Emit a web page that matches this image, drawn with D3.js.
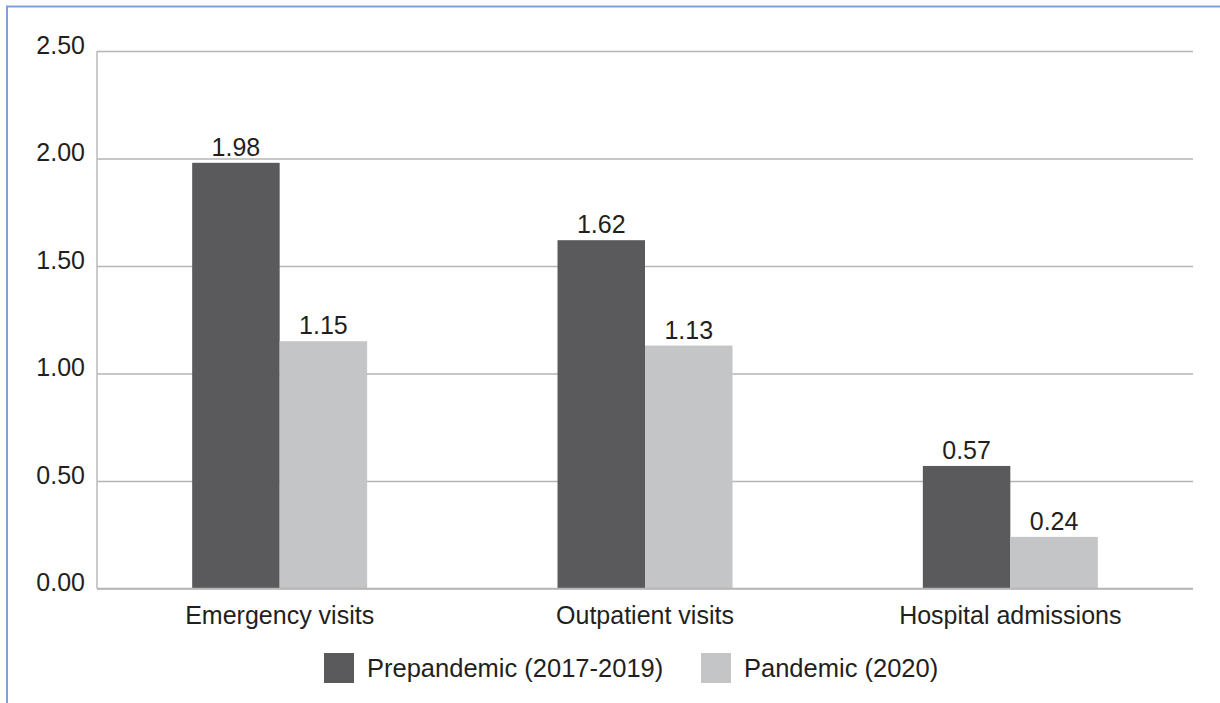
<!DOCTYPE html>
<html>
<head>
<meta charset="utf-8">
<script src="https://cdn.jsdelivr.net/npm/d3@7/dist/d3.min.js"></script>
<style>
  html, body { margin: 0; padding: 0; background: #ffffff; }
  svg { display: block; font-family: "Liberation Sans", Arial, sans-serif; }
</style>
</head>
<body>
<svg id="chart" width="1220" height="703"></svg>
<script>
// Visits / admissions per period
const categories = ["Emergency visits", "Outpatient visits", "Hospital admissions"];
const seriesNames = ["Prepandemic (2017-2019)", "Pandemic (2020)"];
const prepandemic = [1.98, 1.62, 0.57];
const pandemic = [1.15, 1.13, 0.24];
const yTicks = [0, 0.5, 1.0, 1.5, 2.0, 2.5];
const seriesColors = ["#5a5a5c", "#c4c5c7"];

const svg = d3.select("#chart");
const W = 1220, H = 703;
const plot = { left: 97, right: 1193, top: 51, bottom: 588.5 };

// Outer frame: top and left rules
svg.append("line").attr("x1", 6).attr("x2", W).attr("y1", 6.5).attr("y2", 6.5)
  .attr("stroke", "#7ba3d4").attr("stroke-width", 2);
svg.append("line").attr("x1", 7).attr("x2", 7).attr("y1", 6).attr("y2", H)
  .attr("stroke", "#7ba3d4").attr("stroke-width", 2);

const y = d3.scaleLinear().domain([0, 2.5]).range([plot.bottom, plot.top]);
const x0 = d3.scaleBand().domain(categories).range([plot.left, plot.right]).padding(0);
const groupW = x0.bandwidth() * 0.479;
const x1 = d3.scaleBand().domain(seriesNames)
  .range([(x0.bandwidth() - groupW) / 2, (x0.bandwidth() + groupW) / 2]).padding(0);

// Gridlines with tick labels
const yAxis = d3.axisLeft(y).tickValues(yTicks).tickFormat(d3.format(".2f"))
  .tickSize(-(plot.right - plot.left)).tickPadding(12);
const gy = svg.append("g").attr("transform", `translate(${plot.left},0)`).call(yAxis);
gy.select(".domain").remove();
gy.selectAll(".tick line").attr("stroke", "#b5b5b5").attr("stroke-width", 1.4);
gy.selectAll(".tick text")
  .attr("fill", "#231f20").attr("font-size", "25px")
  .attr("dy", "0.08em").attr("dominant-baseline", "auto")
  .attr("y", 0).attr("dy", 2);

// Vertical axis rule
svg.append("line").attr("x1", plot.left).attr("x2", plot.left)
  .attr("y1", y(2.5)).attr("y2", plot.bottom)
  .attr("stroke", "#b5b5b5").attr("stroke-width", 1.4);

const rows = categories.map((c, i) => ({
  category: c,
  values: [
    { series: seriesNames[0], value: prepandemic[i], color: seriesColors[0] },
    { series: seriesNames[1], value: pandemic[i], color: seriesColors[1] }
  ]
}));

const groups = svg.append("g").selectAll("g").data(rows).join("g")
  .attr("transform", d => `translate(${x0(d.category)},0)`);

groups.selectAll("rect").data(d => d.values).join("rect")
  .attr("x", d => x1(d.series))
  .attr("y", d => y(d.value))
  .attr("width", x1.bandwidth())
  .attr("height", d => y(0) - y(d.value))
  .attr("fill", d => d.color);

groups.selectAll("text.val").data(d => d.values).join("text")
  .attr("class", "val")
  .attr("x", d => x1(d.series) + x1.bandwidth() / 2)
  .attr("y", d => y(d.value) - 7)
  .attr("text-anchor", "middle")
  .attr("font-size", "25px")
  .attr("fill", "#231f20")
  .text(d => d.value.toFixed(2));

// Redraw baseline over bars
svg.append("line").attr("x1", plot.left).attr("x2", plot.right)
  .attr("y1", plot.bottom).attr("y2", plot.bottom)
  .attr("stroke", "#b5b5b5").attr("stroke-width", 1.4);

// Category labels
svg.append("g").selectAll("text").data(categories).join("text")
  .attr("x", d => x0(d) + x0.bandwidth() / 2)
  .attr("y", 624)
  .attr("text-anchor", "middle")
  .attr("font-size", "25px")
  .attr("fill", "#231f20")
  .text(d => d);

// Legend
const legendX = [324, 701];
const legend = svg.append("g").selectAll("g").data(seriesNames).join("g")
  .attr("transform", (d, i) => `translate(${legendX[i]},653)`);
legend.append("rect").attr("width", 30).attr("height", 30)
  .attr("fill", (d, i) => seriesColors[i]);
legend.append("text").attr("x", 43).attr("y", 24)
  .attr("font-size", "25.5px").attr("fill", "#231f20")
  .text(d => d);
</script>
</body>
</html>
